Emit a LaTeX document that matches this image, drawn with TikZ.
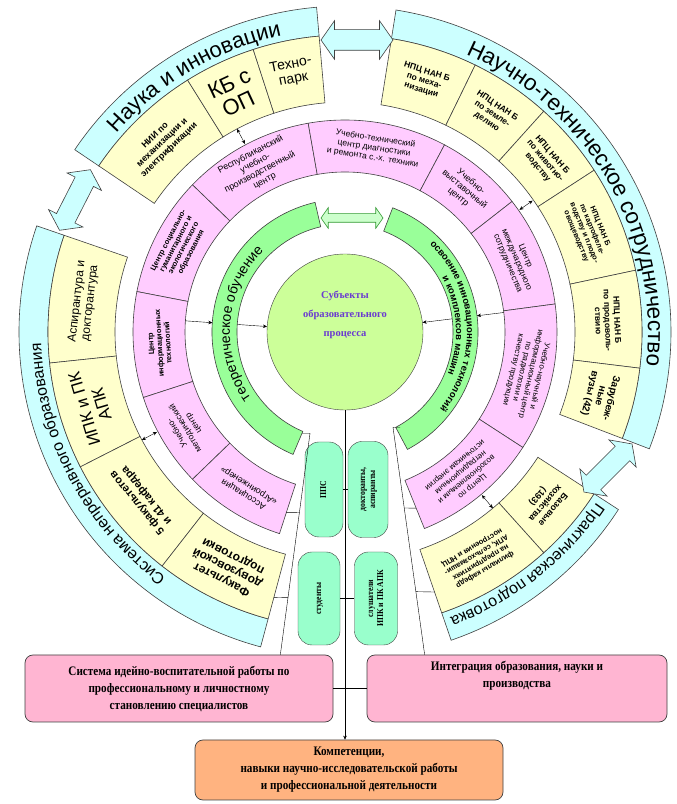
\documentclass[tikz,border=0pt]{standalone}
\usepackage{fontspec}
\setmainfont{Liberation Sans}
\newfontfamily\boxfont[FakeStretch=0.86]{Liberation Serif}
\newfontfamily\corefont{Liberation Serif}
\usetikzlibrary{calc,arrows.meta,decorations.text,shapes.arrows}

\definecolor{ringcyan}{HTML}{CCFFFF}
\definecolor{ringyellow}{HTML}{FFFFCC}
\definecolor{ringpink}{HTML}{FFCCFF}
\definecolor{ringgreen}{HTML}{99FF99}
\definecolor{corelime}{HTML}{CCFF99}
\definecolor{mintfill}{HTML}{99FFCC}
\definecolor{rosefill}{HTML}{FFB5D2}
\definecolor{peachfill}{HTML}{FFB380}
\definecolor{coreink}{HTML}{6A3BD0}
\definecolor{edgegray}{HTML}{404040}
\definecolor{arrowgreen}{HTML}{CCFFCC}
\definecolor{arrowedge}{HTML}{339933}

% annular sector: start angle, end angle, inner radius, outer radius, fill
\newcommand{\ringsector}[5]{%
  \draw[ring,fill=#5] (#1:#3) arc[start angle=#1,end angle=#2,radius=#3]
    -- (#2:#4) arc[start angle=#2,end angle=#1,radius=#4] -- cycle;}
% text along a clockwise arc: start angle, end angle, radius, font, text
\newcommand{\ringarctext}[5]{%
  \path[decorate,decoration={text along path,text align=center,
    text={|#4|#5}}] (#1:#3) arc[start angle=#1,end angle=#2,radius=#3];}
% radial label: name, mid angle, radius, font, text
\newcommand{\seclabel}[5]{%
  \node[seclbl,font=#4,rotate={#2-90}] (#1) at (#2:#3) {#5};}
\newcommand{\minitext}[1]{\rotatebox{90}{\begin{tabular}{@{}c@{}}#1\end{tabular}}}

\begin{document}
\begin{tikzpicture}[x=1pt,y=1pt,>={Stealth[length=4pt,width=3.5pt]},
  ring/.style={draw=edgegray,line width=0.6pt},
  seclbl/.style={align=center,inner sep=0pt},
  fatarrow/.style={double arrow,draw=edgegray,fill=ringcyan,line width=0.6pt,
    inner xsep=0pt,inner ysep=10pt,double arrow head extend=9,
    double arrow tip angle=110},
  minibox/.style={draw=edgegray,fill=mintfill,rounded corners=14,
    minimum width=40,minimum height=94,inner sep=1pt,
    font=\boxfont\bfseries\fontsize{9}{10}\selectfont},
  bigbox/.style={draw=edgegray,rounded corners=8,line width=0.7pt,
    font=\boxfont\bfseries\fontsize{13}{17}\selectfont,align=center}]

\fill[white] (0,0) rectangle (677,804);
\useasboundingbox (0,0) rectangle (677,804);

\begin{scope}[shift={(345,472)}]
  % outer band
  \ringsector{95}{146}{297}{326}{ringcyan}
  \ringsector{-21}{81}{297}{326}{ringcyan}
  \ringsector{-71}{-33}{297}{326}{ringcyan}
  \ringsector{161}{255}{297}{326}{ringcyan}
  \ringarctext{146}{95}{303}{\fontsize{22}{22}\selectfont}{Наука и инновации}
  \ringarctext{81}{-21}{303}{\fontsize{22.5}{22.5}\selectfont}{Научно-техническое сотрудничество}
  \ringarctext{-33}{-71}{304}{\fontsize{16}{16}\selectfont}{Практическая подготовка}
  \ringarctext{255}{161}{304}{\fontsize{16}{16}\selectfont}{Система непрерывного образования}

  % partner ring
  \ringsector{122}{146}{230}{297}{ringyellow}
  \ringsector{108}{122}{230}{297}{ringyellow}
  \ringsector{95}{108}{230}{297}{ringyellow}
  \ringsector{64}{81}{230}{297}{ringyellow}
  \ringsector{48}{64}{230}{297}{ringyellow}
  \ringsector{33}{48}{230}{297}{ringyellow}
  \ringsector{12}{33}{230}{297}{ringyellow}
  \ringsector{-7}{12}{230}{297}{ringyellow}
  \ringsector{-21}{-7}{230}{297}{ringyellow}
  \ringsector{-48}{-33}{230}{297}{ringyellow}
  \ringsector{-71}{-48}{230}{297}{ringyellow}
  \ringsector{161}{186}{230}{297}{ringyellow}
  \ringsector{186}{207}{230}{297}{ringyellow}
  \ringsector{207}{232}{230}{297}{ringyellow}
  \ringsector{232}{255}{230}{297}{ringyellow}

  \seclabel{nii}{134}{263}{\bfseries\fontsize{9}{10}\selectfont}{НИИ по\\механизации и\\электрификации}
  \seclabel{kb}{115}{263}{\fontsize{22}{22}\selectfont}{КБ с\\ОП}
  \seclabel{tpark}{101.5}{265}{\fontsize{14}{15}\selectfont}{Техно-\\парк}
  \seclabel{npcmech}{72.5}{263}{\bfseries\fontsize{8.5}{9.5}\selectfont}{НПЦ НАН Б\\по меха-\\низации}
  \seclabel{npczem}{56}{263}{\bfseries\fontsize{8.5}{9.5}\selectfont}{НПЦ НАН Б\\по земле-\\делию}
  \seclabel{npcziv}{40.5}{263}{\bfseries\fontsize{8.5}{9.5}\selectfont}{НПЦ НАН Б\\по животно-\\водству}
  \seclabel{npckart}{22.5}{263}{\bfseries\fontsize{7.5}{8.5}\selectfont}{НПЦ НАН Б\\по картофеле-\\водству и плодо-\\овощеводству}
  \seclabel{npcprod}{2.5}{263}{\bfseries\fontsize{8.5}{9.5}\selectfont}{НПЦ НАН Б\\по продоволь-\\ствию}
  \seclabel{zarub}{-14}{263}{\bfseries\fontsize{10}{11}\selectfont}{Зарубеж-\\ные\\вузы (42)}
  \seclabel{bazov}{-40.5}{263}{\bfseries\fontsize{9}{10}\selectfont}{Базовые\\хозяйства\\(193)}
  \seclabel{filial}{-59.5}{263}{\bfseries\fontsize{7.5}{8.5}\selectfont}{филиалы кафедр\\на предприятиях\\АПК, сельхозмаши-\\ностроения и НПЦ}
  \seclabel{aspir}{173.5}{263}{\fontsize{12}{13}\selectfont}{Аспирантура и\\докторантура}
  \seclabel{ipk}{196.5}{263}{\fontsize{17}{18}\selectfont}{ИПК и ПК\\АПК}
  \seclabel{fakult}{219.5}{263}{\bfseries\fontsize{11}{12}\selectfont}{5 факультетов\\и 41 кафедра}
  \seclabel{dovuz}{243.5}{263}{\bfseries\fontsize{12}{13}\selectfont}{Факультет\\довузовской\\подготовки}

  % centres ring
  \ringsector{136}{169}{160}{212}{ringpink}
  \ringsector{100}{136}{160}{212}{ringpink}
  \ringsector{62}{100}{160}{212}{ringpink}
  \ringsector{38}{62}{160}{212}{ringpink}
  \ringsector{7.6}{38}{160}{212}{ringpink}
  \ringsector{-33}{7.6}{160}{212}{ringpink}
  \ringsector{-68}{-33}{160}{212}{ringpink}
  \ringsector{169}{198}{160}{212}{ringpink}
  \ringsector{198}{224}{160}{212}{ringpink}
  \ringsector{224}{252}{160}{212}{ringpink}

  \seclabel{soc}{152.5}{186}{\bfseries\fontsize{7.5}{8.5}\selectfont}{Центр социально-\\гуманитарного и\\экологического\\образования}
  \seclabel{resp}{118}{186}{\fontsize{9}{10}\selectfont}{Республиканский\\учебно-\\производственный\\центр}
  \seclabel{diagn}{81}{186}{\fontsize{8.5}{9.5}\selectfont}{Учебно-технический\\центр диагностики\\и ремонта с.-х. техники}
  \seclabel{vystav}{50}{186}{\fontsize{9}{10}\selectfont}{Учебно-\\выставочный\\центр}
  \seclabel{mezhd}{22.8}{186}{\fontsize{8.5}{9.5}\selectfont}{Центр\\международного\\сотрудничества}
  \seclabel{radiol}{-12.7}{186}{\fontsize{8}{9}\selectfont}{Учебно-научный и\\информационный центр\\по радиологии и\\качеству продукции}
  \seclabel{vozob}{-50.5}{186}{\fontsize{8}{9}\selectfont}{Центр по\\возобновляемым и\\нетрадиционным\\источникам энергии}
  \seclabel{infotech}{183.5}{186}{\bfseries\fontsize{7.5}{8.5}\selectfont}{Центр\\информационных\\технологий}
  \seclabel{metod}{211}{186}{\fontsize{8.5}{9.5}\selectfont}{Учебно-\\методический\\центр}
  \seclabel{assoc}{238}{186}{\fontsize{9}{10}\selectfont}{Ассоциация\\«Агроинженер»}

  % learning ring
  \ringsector{103}{247}{108}{133}{ringgreen}
  \ringsector{-62}{69}{108}{133}{ringgreen}
  \ringarctext{240}{110}{115}{\fontsize{14}{14}\selectfont}{теоретическое обучение}
  \ringarctext{69}{-62}{122}{\bfseries\fontsize{9.5}{9.5}\selectfont}{освоение инновационных технологий}
  \ringarctext{69}{-62}{111}{\bfseries\fontsize{9.5}{9.5}\selectfont}{и комплексов машин}

  \node[circle,draw=edgegray,fill=corelime,minimum size=156,inner sep=0pt] (core) at (0,0) {};
  \node[seclbl,text=coreink,font=\corefont\bfseries\fontsize{10.5}{19}\selectfont] (subj) at (0,17)
    {Субъекты\\образовательного\\процесса};

  % link points
  \coordinate (kbA) at (118:230);     \coordinate (respA) at (118:213);
  \coordinate (zivA) at (35:229);     \coordinate (vystA) at (35:213);
  \coordinate (ipkA) at (208:230);    \coordinate (metodA) at (208:213);
  \coordinate (filA) at (-50:230);    \coordinate (vozobA) at (-50:213);
  \coordinate (pinkL) at (176:160);   \coordinate (greenLo) at (176:133);
  \coordinate (greenLi) at (176:108);
  \coordinate (pinkR) at (7:160);     \coordinate (greenRo) at (7:133);
  \coordinate (greenRi) at (7:108);
  \coordinate (greenLend) at (247:110);
  \coordinate (greenRend) at (-60:110);
  \coordinate (assocEnd) at (252:190);
  \coordinate (dovuzEnd) at (255:275);
  \coordinate (vozobEnd) at (-68:190);
  \coordinate (filialEnd) at (-71:275);
\end{scope}

\draw[<->] (kbA) -- (respA);
\draw[<->] (zivA) -- (vystA);
\draw[<->] (ipkA) -- (metodA);
\draw[<->] (filA) -- (vozobA);
\draw[->] (pinkL) -- (greenLo);
\draw[->] (greenLi) -- (core.176);
\draw[->] (pinkR) -- (greenRo);
\draw[->] (greenRi) -- (core.7);

% wide arrows between the bands
\node[fatarrow,minimum height=72] (topdbl) at (357,764) {};
\node[fatarrow,minimum height=68,rotate=63] (leftdbl) at (75,604) {};
\node[fatarrow,minimum height=68,rotate=45] (rightdbl) at (608,336) {};
\node[double arrow,draw=arrowedge,fill=arrowgreen,line width=0.6pt,minimum height=62,
  inner xsep=0pt,inner ysep=4pt,double arrow head extend=6,
  double arrow tip angle=110] (greendbl) at (352,586) {};

% subjects
\node[minibox,minimum width=38,minimum height=95] (pps) at (324,314.5) {\minitext{ППС}};
\node[minibox,minimum width=40,minimum height=96] (doct) at (368,314.5) {\minitext{докторанты,\\аспиранты}};
\node[minibox,minimum width=42,minimum height=93] (stud) at (319,205.5) {\minitext{студенты}};
\node[minibox,minimum width=43,minimum height=93] (slush) at (376,205.5) {\minitext{слушатели\\ИПК и ПК АПК}};

% bottom boxes
\node[bigbox,fill=rosefill,minimum width=308,minimum height=67] (ideo) at (179,115.5)
  {Система идейно-воспитательной работы по\\профессиональному и личностному\\становлению специалистов};
\node[bigbox,fill=rosefill,minimum width=300,minimum height=67] (integr) at (517,115.5) {};
\node[seclbl,anchor=north,font=\boxfont\bfseries\fontsize{13}{17}\selectfont] (integrtext)
  at ($(integr.north)+(0,-6)$) {Интеграция образования, науки и\\производства};
\node[bigbox,fill=peachfill,minimum width=308,minimum height=60] (comp) at (349,34)
  {Компетенции,\\навыки научно-исследовательской работы\\и профессиональной деятельности};

\coordinate (lhead) at ($(greenLend)+(8,0)$);
\coordinate (rhead) at ($(greenRend)+(-7,0)$);
\coordinate (lfoot) at ($(ideo.north east)+(-53,0)$);
\coordinate (rfoot) at ($(integr.north west)+(58,0)$);

\draw (greenLend) -- (lhead) -- (lfoot);
\draw (greenRend) -- (rhead) -- (rfoot);
\draw (assocEnd) -- ($(lhead)!0.358!(lfoot)$);
\draw (dovuzEnd) -- ($(lhead)!0.741!(lfoot)$);
\draw (vozobEnd) -- ($(rhead)!0.355!(rfoot)$);
\draw (filialEnd) -- ($(rhead)!0.723!(rfoot)$);
\draw (pps.east) -- (doct.west);
\draw (stud.east) -- (slush.west);
\draw (ideo.east) -- (integr.west);
\draw[->] (core.south) -- (core.south |- comp.north);
\end{tikzpicture}
\end{document}
